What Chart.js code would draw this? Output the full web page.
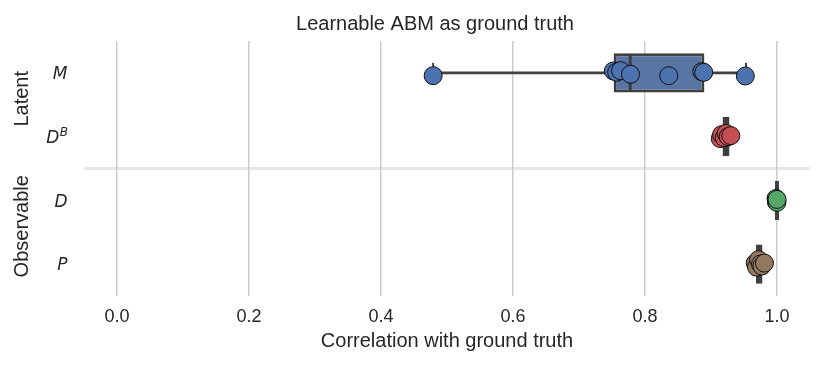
<!DOCTYPE html>
<html>
<head>
<meta charset="utf-8">
<script src="https://cdn.jsdelivr.net/npm/chart.js@4.4.0/dist/chart.umd.min.js"></script>
<style>
  html, body { margin: 0; padding: 0; background: #ffffff; }
</style>
</head>
<body>
<canvas id="myChart" width="831" height="367"></canvas>
<script>
// Rows from top to bottom (y = 0, 1, 2, 3)
var rowNames = ['M', 'D', 'D', 'P'];
var rowSup = ['', 'B', '', ''];
var groupNames = ['Latent', 'Observable'];
var groupRows = [[0, 1], [2, 3]];
var titleText = 'Learnable ABM as ground truth';
var xTitle = 'Correlation with ground truth';
var xTicks = [0.0, 0.2, 0.4, 0.6, 0.8, 1.0];

// Box plot pieces
var boxLow = [0.7525, 0.9175, 0.997, 0.968];
var boxHigh = [0.890, 0.928, 1.003, 0.978];
var medians = [0.7776, 0.9225, 1.000, 0.973];
var whiskLow = [0.479, 0.918, 0.998, 0.969];
var whiskHigh = [0.953, 0.927, 1.000, 0.977];

// Strip points (x = correlation, jit = vertical jitter in row units)
var pointsM = [0.479, 0.752, 0.757, 0.763, 0.778, 0.836, 0.886, 0.889, 0.952];
var jitM = [0.044, -0.030, -0.010, -0.035, 0.022, 0.044, -0.019, -0.008, 0.049];
var pointsDB = [0.914, 0.916, 0.920, 0.923, 0.926, 0.930];
var jitDB = [0.030, -0.030, 0.016, -0.050, 0.000, -0.016];
var pointsD = [0.9985, 0.999, 0.9995, 1.000, 1.000];
var jitD = [-0.030, 0.020, 0.000, 0.030, -0.015];
var pointsP = [0.967, 0.969, 0.972, 0.975, 0.977, 0.981];
var jitP = [-0.016, 0.047, -0.070, 0.000, 0.030, -0.016];

var pointColors = ['#4C72B0', '#C44E52', '#55A868', '#937860'];
var boxColors = ['#5875a4', '#b55d60', '#5f9e6e', '#8c7866'];
var lineGrey = '#3f3f3f';
var textGrey = '#262626';
var sans = '"Liberation Sans", Arial, sans-serif';

var allPoints = [pointsM, pointsDB, pointsD, pointsP];
var allJit = [jitM, jitDB, jitD, jitP];

var datasets = [];

// whiskers, drawn under everything
rowNames.forEach(function (name, i) {
    datasets.push({
        type: 'line',
        data: [{x: whiskLow[i], y: i}, {x: whiskHigh[i], y: i}],
        borderColor: lineGrey,
        borderWidth: 2.7,
        pointRadius: 0,
        order: 6
    });
});

// whisker caps
datasets.push({
    type: 'scatter',
    data: rowNames.map(function (n, i) { return {x: whiskLow[i], y: i}; })
        .concat(rowNames.map(function (n, i) { return {x: whiskHigh[i], y: i}; })),
    pointStyle: 'line',
    pointRotation: 90,
    pointRadius: 10,
    pointBorderWidth: 2,
    pointBorderColor: lineGrey,
    order: 5
});

// boxes
datasets.push({
    type: 'bar',
    data: rowNames.map(function (n, i) { return {y: i, x: [boxLow[i], boxHigh[i]]}; }),
    backgroundColor: boxColors,
    borderColor: lineGrey,
    borderWidth: 3,
    borderSkipped: false,
    barPercentage: 0.618,
    categoryPercentage: 1,
    order: 4
});

// medians
datasets.push({
    type: 'scatter',
    data: rowNames.map(function (n, i) { return {x: medians[i], y: i}; }),
    pointStyle: 'line',
    pointRotation: 90,
    pointRadius: 18,
    pointBorderWidth: 3,
    pointBorderColor: lineGrey,
    order: 3
});

// strip points
allPoints.forEach(function (xs, i) {
    datasets.push({
        type: 'scatter',
        data: xs.map(function (v, k) { return {x: v, y: i + allJit[i][k]}; }),
        pointRadius: 9,
        pointBackgroundColor: pointColors[i],
        pointBorderColor: '#111111',
        pointBorderWidth: 1,
        order: 1
    });
});

var decor = {
    id: 'decor',
    beforeDraw: function (chart) {
        // group separator
        var ctx = chart.ctx, a = chart.chartArea, y = chart.scales.y;
        var ys = y.getPixelForValue(1.5);
        ctx.save();
        ctx.strokeStyle = '#e6e6e6';
        ctx.lineWidth = 3;
        ctx.beginPath();
        ctx.moveTo(a.left, ys);
        ctx.lineTo(a.right, ys);
        ctx.stroke();
        ctx.restore();
    },
    afterDraw: function (chart) {
        var ctx = chart.ctx, y = chart.scales.y;
        ctx.save();
        ctx.fillStyle = textGrey;

        // title
        ctx.font = '20px ' + sans;
        ctx.textAlign = 'center';
        ctx.textBaseline = 'alphabetic';
        ctx.fillText(titleText, 435, 29.5);

        // row labels (italic, like mathtext)
        rowNames.forEach(function (name, i) {
            var py = y.getPixelForValue(i) + 6.2;
            var right = 68;
            var supW = 0;
            if (rowSup[i]) {
                ctx.font = 'italic 12px "DejaVu Sans"';
                supW = ctx.measureText(rowSup[i]).width;
                ctx.textAlign = 'left';
                ctx.fillText(rowSup[i], right - supW, py - 7);
            }
            ctx.font = 'italic 17px "DejaVu Sans"';
            ctx.textAlign = 'right';
            ctx.fillText(name, right - supW - 0.5, py);
        });

        // group labels
        ctx.font = '20px ' + sans;
        ctx.textAlign = 'center';
        ctx.textBaseline = 'middle';
        groupNames.forEach(function (g, k) {
            var rows = groupRows[k];
            var cy = (y.getPixelForValue(rows[0]) + y.getPixelForValue(rows[rows.length - 1])) / 2 - 6;
            ctx.save();
            ctx.translate(22, cy);
            ctx.rotate(-Math.PI / 2);
            ctx.fillText(g, 0, 0);
            ctx.restore();
        });
        ctx.restore();
    }
};

var ctx = document.getElementById('myChart');
var myChart = new Chart(ctx, {
    type: 'bar',
    data: { datasets: datasets },
    options: {
        indexAxis: 'y',
        responsive: false,
        animation: false,
        events: [],
        layout: { padding: { top: 41, left: 84, right: 13.7, bottom: 13.6 } },
        plugins: {
            legend: { display: false },
            tooltip: { enabled: false }
        },
        scales: {
            x: {
                type: 'linear',
                min: -0.05,
                max: 1.05,
                afterBuildTicks: function (scale) {
                    scale.ticks = xTicks.map(function (v) { return {value: v}; });
                },
                afterFit: function (scale) { scale.height = 57.4; },
                grid: { color: '#cccccc', lineWidth: 1.5, drawTicks: false },
                border: { display: false },
                ticks: {
                    color: textGrey,
                    padding: 10.4,
                    font: { family: sans, size: 18 },
                    callback: function (v) { return v.toFixed(1); }
                },
                title: {
                    display: true,
                    text: xTitle,
                    color: textGrey,
                    font: { family: sans, size: 20 },
                    padding: { top: 0, bottom: 0 }
                }
            },
            y: {
                type: 'linear',
                min: -0.5,
                max: 3.5,
                reverse: true,
                offset: false,
                display: false,
                afterBuildTicks: function (scale) {
                    scale.ticks = rowNames.map(function (n, i) { return {value: i}; });
                }
            }
        }
    },
    plugins: [decor]
});
</script>
</body>
</html>
